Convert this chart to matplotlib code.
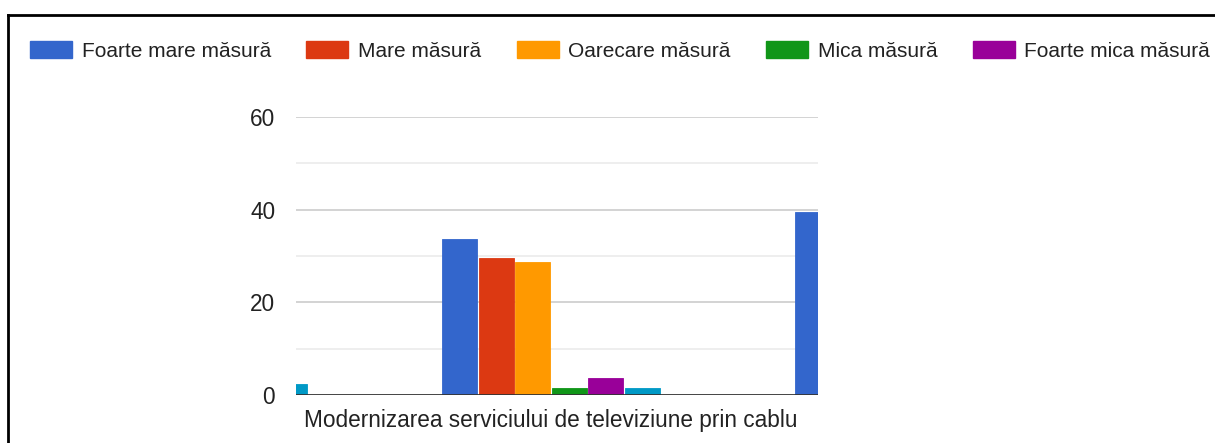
import numpy as np
import matplotlib
matplotlib.use("Agg")
from matplotlib import pyplot as plt
from matplotlib.patches import Rectangle
from matplotlib.lines import Line2D

nan = np.nan

# categories seen in the crop (neighbours are cut off)
categories = ["", "Modernizarea serviciului de televiziune prin cablu", ""]

foarte_mare = [nan, 33.7, 39.6]
mare = [nan, 29.6, nan]
oarecare = [nan, 28.6, nan]
mica = [nan, 1.6, nan]
foarte_mica = [nan, 3.6, nan]
serie6 = [2.4, 1.6, nan]   # 6th series, its legend entry is cut off

series = [
    ("Foarte mare măsură", foarte_mare, "#3366cc"),
    ("Mare măsură", mare, "#dc3912"),
    ("Oarecare măsură", oarecare, "#ff9900"),
    ("Mica măsură", mica, "#109618"),
    ("Foarte mica măsură", foarte_mica, "#990099"),
    ("_serie6", serie6, "#0099c6"),
]

yticks = [0, 20, 40, 60]

plt.rcParams['font.family'] = ['Liberation Sans', 'DejaVu Sans']

W, H = 1215, 443
fig = plt.figure(figsize=(W / 100, H / 100), dpi=100)
ax = fig.add_axes([296 / W, 1 - 395 / H, (818 - 296) / W, (395 - 117) / H])

step = 36.5 / 353
width = 35 / 353
x = np.arange(len(categories))

for j, (name, vals, col) in enumerate(series):
    vals = np.array(vals, dtype=float)
    ok = ~np.isnan(vals)
    ax.bar(x[ok] + (j - 2.5) * step, vals[ok], width=width, color=col,
           edgecolor=col, linewidth=0.6, zorder=3)

# gridlines: major at 0/20/40/60, lighter minor in between
for v in [10, 30, 50]:
    ax.axhline(v, color="#ebebeb", linewidth=1.2, zorder=1)
for v in [20, 40, 60]:
    ax.axhline(v, color="#cccccc", linewidth=1.2, zorder=1)
ax.axhline(0, color="#333333", linewidth=2, zorder=4)

ax.set_yticks(yticks)
ax.set_yticklabels([str(t) for t in yticks])
ax.set_xticks(x)
ax.set_xticklabels(categories)
ax.set_xlim(0.278, 1.756)
ax.set_ylim(0, 60)
ax.tick_params(axis='both', length=0, labelsize=16.3, colors="#222222")
ax.tick_params(axis='y', pad=15)
ax.tick_params(axis='x', pad=10)
for s in ax.spines.values():
    s.set_visible(False)

# legend
handles = [Rectangle((0, 0), 1, 1, facecolor=c, edgecolor=c)
           for n, v, c in series if not n.startswith("_")]
labels = [n for n, v, c in series if not n.startswith("_")]
leg = fig.legend(handles, labels, loc="center left", ncol=5,
                 bbox_to_anchor=(30 / W, 1 - 51 / H), frameon=False,
                 fontsize=15, handlelength=2.02, handleheight=0.91,
                 handletextpad=0.46, columnspacing=1.7, borderaxespad=0,
                 borderpad=0)
for t in leg.get_texts():
    t.set_color("#222222")

# outer frame of the screenshot
fig.add_artist(Line2D([8 / W, 8 / W], [0, 1 - 15 / H], color="black",
                      linewidth=2, transform=fig.transFigure))
fig.add_artist(Line2D([8 / W, 1], [1 - 15 / H, 1 - 15 / H], color="black",
                      linewidth=2, transform=fig.transFigure))

fig.savefig("out.png", dpi=100, facecolor="white")
